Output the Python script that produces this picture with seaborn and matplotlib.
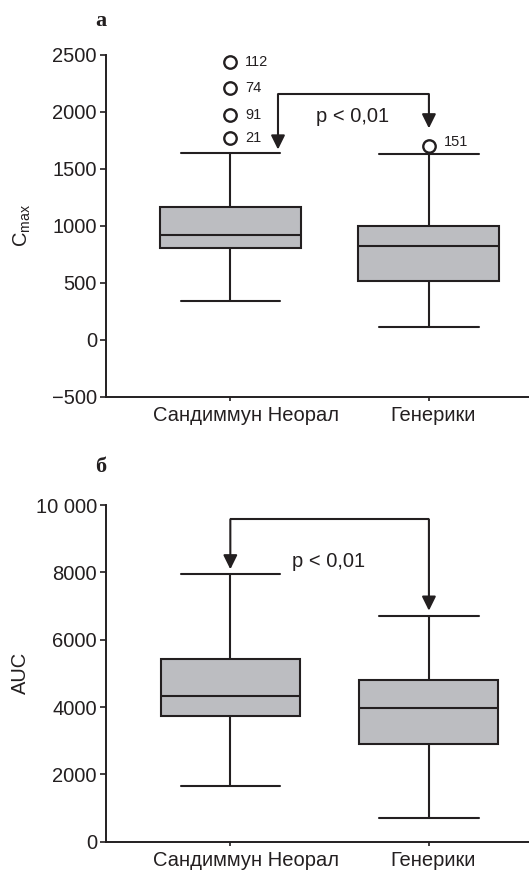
import numpy as np
import pandas as pd
import matplotlib
matplotlib.use("Agg")
import matplotlib.pyplot as plt
import matplotlib.transforms as mtransforms
import seaborn as sns

# ---------------- data ----------------
groups = ["Сандиммун Неорал", "Генерики"]

# five-number summaries: whisker low, Q1, median, Q3, whisker high
cmax_neoral = [341, 802, 924, 1167, 1642]
cmax_generic = [112, 514, 824, 998, 1627]
auc_neoral = [1663, 3733, 4327, 5417, 7942]
auc_generic = [695, 2893, 3962, 4811, 6712]

# outliers (Cmax)
cmax_out_group = ["Сандиммун Неорал"] * 4 + ["Генерики"]
cmax_out_values = [2436, 2207, 1973, 1768, 1703]
cmax_out_labels = ["112", "74", "91", "21", "151"]

cmax_yticks = [-500, 0, 500, 1000, 1500, 2000, 2500]
cmax_yticklabels = ["\u2212500", "0", "500", "1000", "1500", "2000", "2500"]
auc_yticks = [0, 2000, 4000, 6000, 8000, 10000]
auc_yticklabels = ["0", "2000", "4000", "6000", "8000", "10 000"]

p_text = "p < 0,01"

# ---------------- style ----------------
INK = "#231f20"
FILL = "#bcbdc1"
sns.set_theme(style="ticks")
plt.rcParams["font.family"] = ["Liberation Sans", "DejaVu Sans"]
plt.rcParams["mathtext.default"] = "regular"
plt.rcParams["text.color"] = INK
plt.rcParams["axes.labelcolor"] = INK
plt.rcParams["xtick.color"] = INK
plt.rcParams["ytick.color"] = INK

fig = plt.figure(figsize=(5.29, 8.73), dpi=100)
ax1 = fig.add_axes([0.2004, 0.5456, 0.800, 0.3914])
ax2 = fig.add_axes([0.2004, 0.0359, 0.800, 0.3856])

df_cmax = pd.DataFrame({
    "group": [groups[0]] * 5 + [groups[1]] * 5,
    "value": cmax_neoral + cmax_generic,
})
df_auc = pd.DataFrame({
    "group": [groups[0]] * 5 + [groups[1]] * 5,
    "value": auc_neoral + auc_generic,
})
df_out = pd.DataFrame({"group": cmax_out_group, "value": cmax_out_values,
                       "label": cmax_out_labels})


def draw_box(ax, df, width):
    sns.boxplot(data=df, x="group", y="value", order=groups, whis=(0, 100),
                width=width, showfliers=False, color=FILL, linecolor=INK,
                linewidth=1.5, ax=ax, saturation=1)
    # widen caps to half the category spacing
    for line in ax.lines:
        xd = np.asarray(line.get_xdata(), dtype=float)
        yd = np.asarray(line.get_ydata(), dtype=float)
        if len(xd) == 2 and yd[0] == yd[1]:
            span = xd[1] - xd[0]
            if abs(span) < width * 0.6:
                c = xd.mean()
                line.set_xdata([c - 0.25, c + 0.25])


def style_ax(ax, yticks, yticklabels, ylim, ylabel, lcx):
    ax.set_xlim(-0.626, 1.505)
    ax.set_ylim(*ylim)
    ax.set_yticks(yticks)
    ax.set_yticklabels(yticklabels)
    ax.set_xlabel("")
    ax.set_ylabel(ylabel, fontsize=14.5)
    ax.yaxis.set_label_coords(lcx, 0.5)
    for s in ["top", "right"]:
        ax.spines[s].set_visible(False)
    for s in ["left", "bottom"]:
        ax.spines[s].set_linewidth(1.4)
        ax.spines[s].set_color(INK)
    ax.tick_params(axis="y", length=4.5, width=1.2, pad=2, labelsize=14.5)
    ax.tick_params(axis="x", length=3, width=1.2, pad=4, labelsize=14.5)
    # x labels sit slightly to the right of their ticks in the original
    for lab, dx in zip(ax.get_xticklabels(), [16, 4]):
        lab.set_transform(lab.get_transform() +
                          mtransforms.ScaledTranslation(dx / 100, 0, fig.dpi_scale_trans))


def bracket(ax, x_left, x_right, y_top, tip_left, tip_right):
    ax.plot([x_left, x_right], [y_top, y_top], color=INK, lw=1.5,
            solid_capstyle="butt")
    for x, tip in [(x_left, tip_left), (x_right, tip_right)]:
        ax.annotate("", xy=(x, tip), xytext=(x, y_top),
                    arrowprops=dict(arrowstyle="-|>,head_length=0.85,head_width=0.42",
                                    color=INK, lw=1.5, shrinkA=0, shrinkB=0,
                                    mutation_scale=10))


# ---- panel а ----
draw_box(ax1, df_cmax, 0.71)
sns.scatterplot(data=df_out, x="group", y="value", marker="o", s=80,
                facecolor="white", edgecolor=INK, linewidth=1.7, ax=ax1,
                zorder=5, legend=False)
for g, v, lab in zip(cmax_out_group, cmax_out_values, cmax_out_labels):
    xi = groups.index(g)
    dy = 3 if g == groups[1] else 0
    ax1.annotate(lab, (xi, v), xytext=(10.5, dy), textcoords="offset points",
                 ha="left", va="center", fontsize=10.5, color=INK)
style_ax(ax1, cmax_yticks, cmax_yticklabels, (-500, 2500), r"$C_{max}$", -0.173)
bracket(ax1, 0.24, 1.0, 2157, 1670, 1856)
ax1.text(0.43, 1958, p_text, ha="left", va="center", fontsize=14.5, color=INK)

# ---- panel б ----
draw_box(ax2, df_auc, 0.70)
style_ax(ax2, auc_yticks, auc_yticklabels, (0, 10000), "AUC", -0.18)
bracket(ax2, 0.0, 1.0, 9575, 8090, 6861)
ax2.text(0.31, 8316, p_text, ha="left", va="center", fontsize=14.5, color=INK)

# panel letters
fig.text(101 / 529, 1 - 21 / 873, "а", ha="center", va="center",
         family=["Liberation Serif", "DejaVu Serif"], weight="bold", fontsize=16)
fig.text(101 / 529, 1 - 467 / 873, "б", ha="center", va="center",
         family=["Liberation Serif", "DejaVu Serif"], weight="bold", fontsize=16)

fig.savefig("out.png", dpi=100)
